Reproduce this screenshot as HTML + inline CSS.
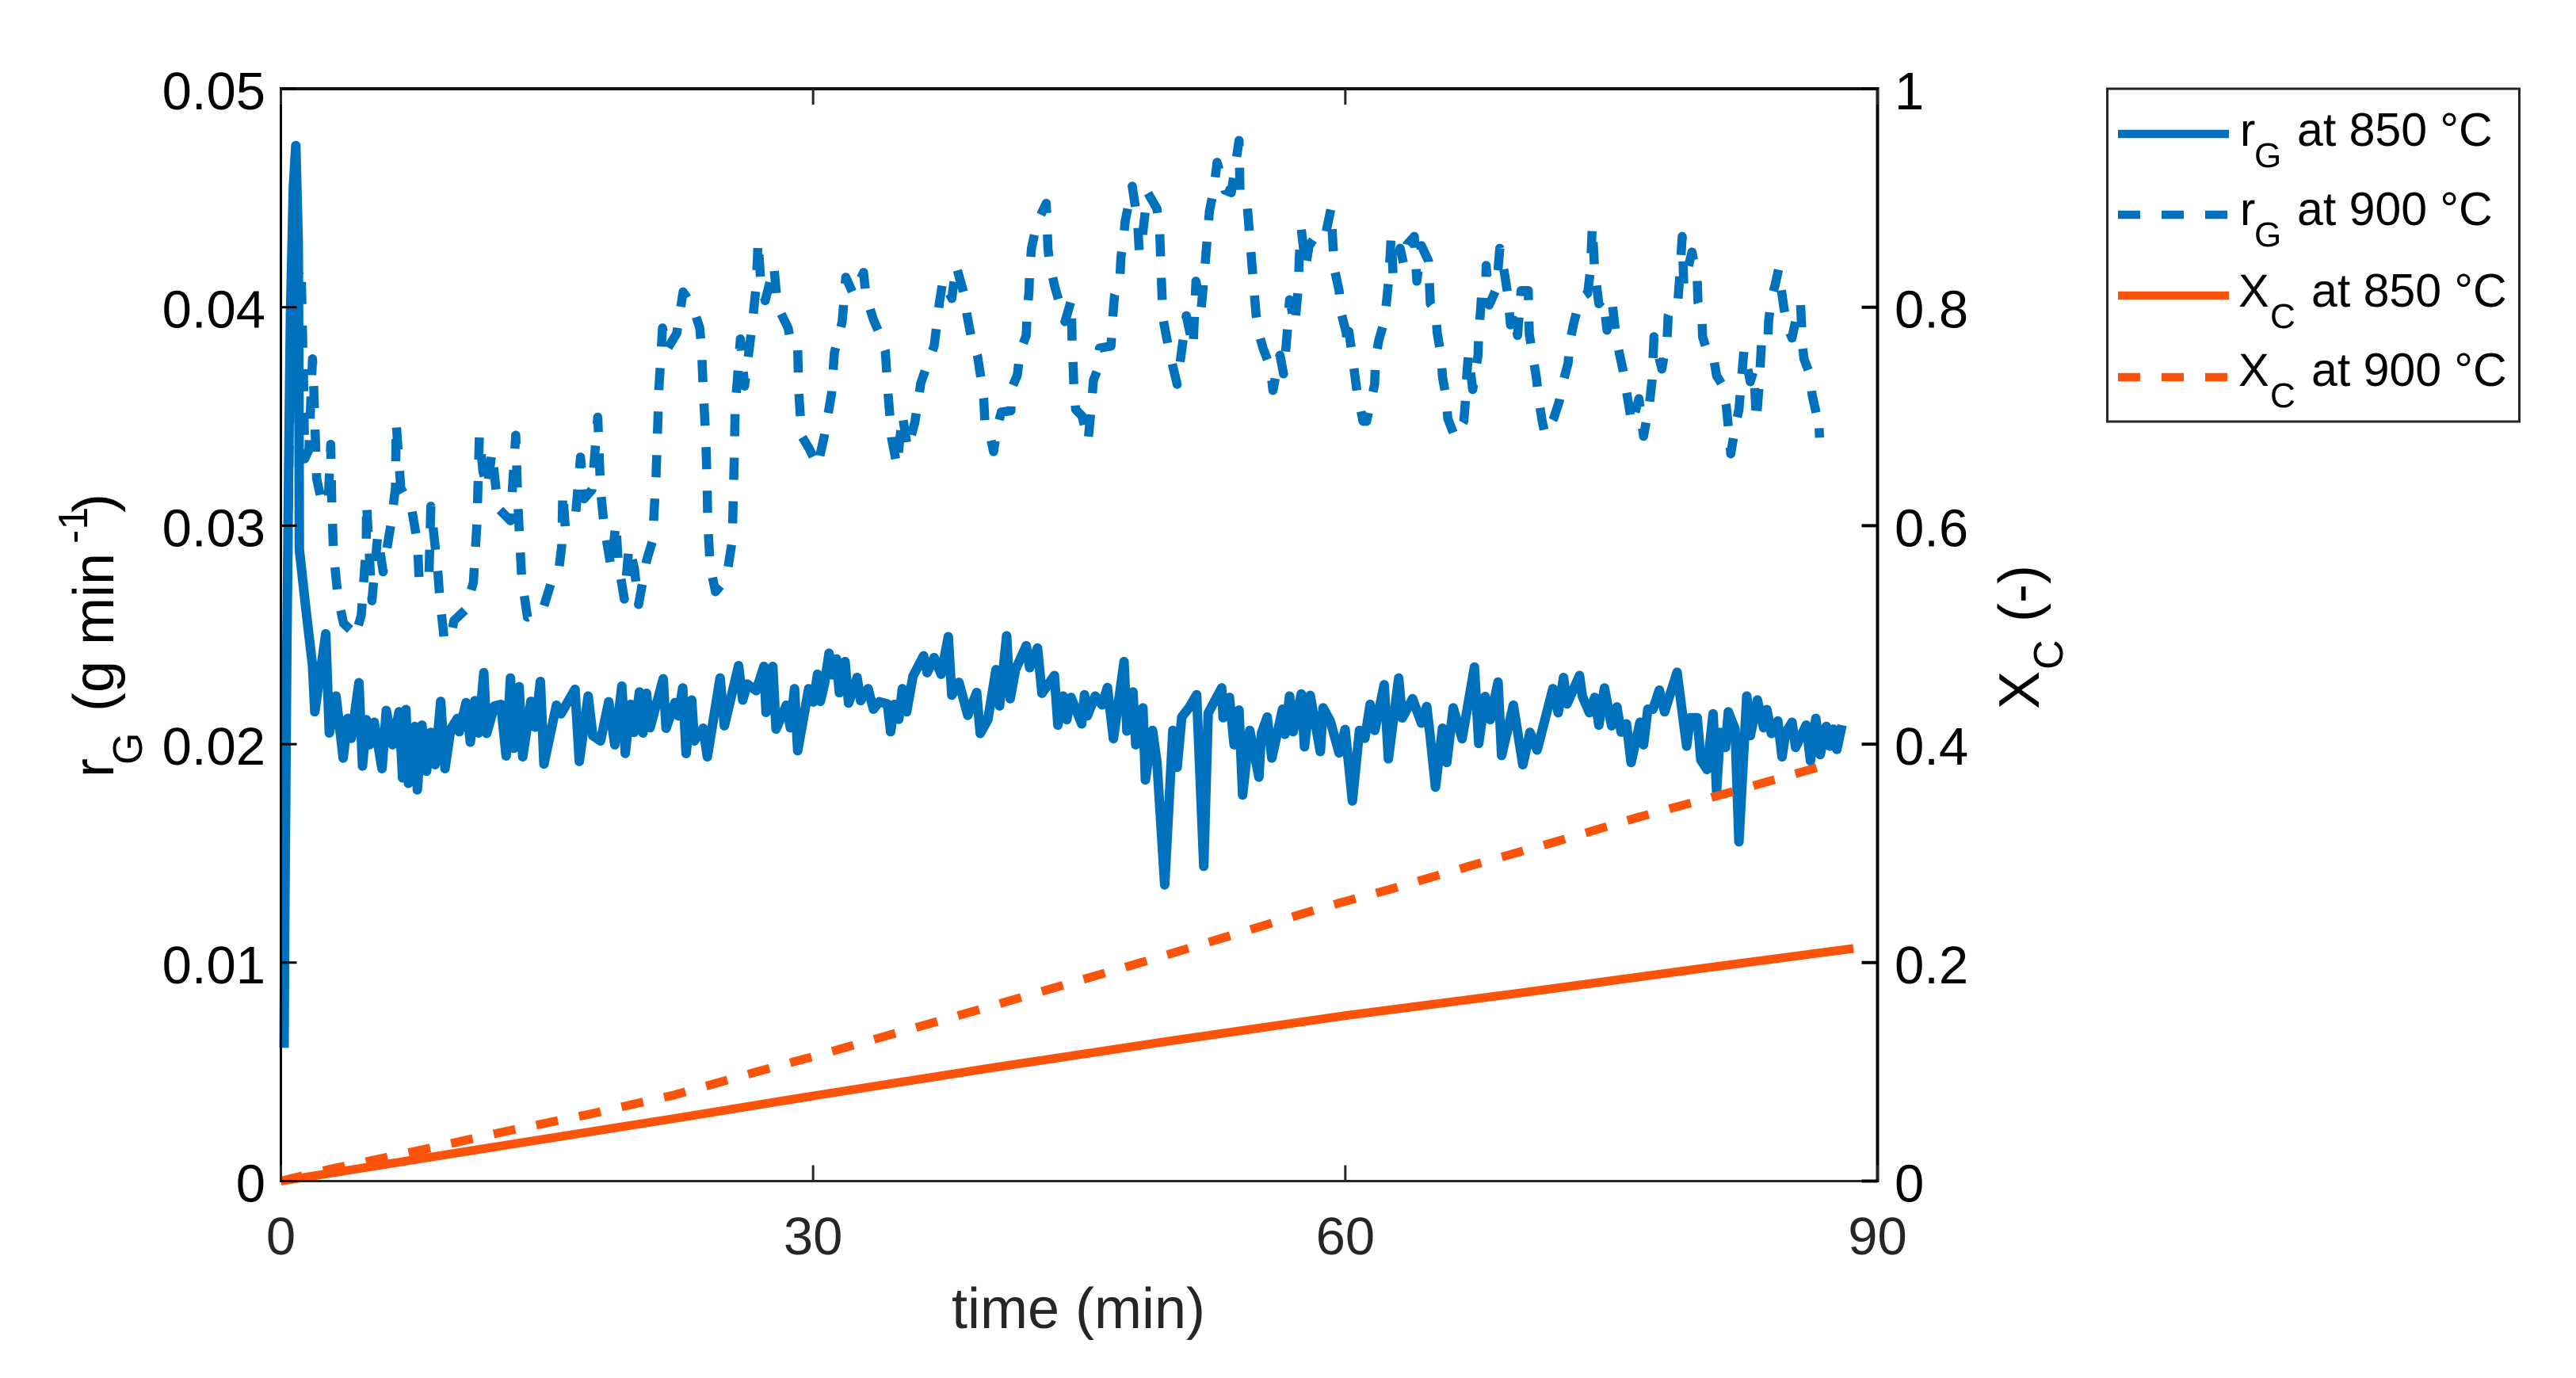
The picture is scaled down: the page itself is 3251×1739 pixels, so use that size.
<!DOCTYPE html>
<html lang="en">
<head>
<meta charset="utf-8">
<title>Gasification rate and carbon conversion over time</title>
<style>
html,body{margin:0;padding:0;background:#fff;}
svg{display:block;}
text{font-family:"Liberation Sans",Arial,sans-serif;}
</style>
</head>
<body>
<svg id="chart" xmlns="http://www.w3.org/2000/svg" width="3251" height="1739" viewBox="0 0 3251 1739">
<rect x="0" y="0" width="3251" height="1739" fill="#fff"/>
<g id="series"></g>
<g id="axes"></g>

<text x="1361" y="1676" font-size="72" text-anchor="middle" fill="#262626">time (min)</text>

<g fill="#000">
<text transform="translate(143,981) rotate(-90)" font-size="72">r</text>
<text transform="translate(179,965) rotate(-90)" font-size="52">G</text>
<text transform="translate(143,898) rotate(-90)" font-size="72">(g min</text>
<text transform="translate(110,686) rotate(-90)" font-size="52">-1</text>
<text transform="translate(143,647) rotate(-90)" font-size="72">)</text>
</g>

<g fill="#000">
<text transform="translate(2573,895) rotate(-90)" font-size="72">X</text>
<text transform="translate(2603,845) rotate(-90)" font-size="52">C</text>
<text transform="translate(2573,785) rotate(-90)" font-size="72">(-)</text>
</g>

<g>
<rect x="2659.5" y="112" width="520" height="420" fill="#fff" stroke="#262626" stroke-width="3"/>
<g>
<line x1="2673" y1="169" x2="2813" y2="169" stroke="#0072BD" stroke-width="10.5"/>
<text x="2827" y="184" font-size="58" fill="#000">r</text>
<text x="2845" y="211" font-size="44" fill="#000">G</text>
<text x="2899" y="184" font-size="59" fill="#000">at 850 °C</text>
</g>
<g>
<line x1="2673" y1="271" x2="2813" y2="271" stroke="#0072BD" stroke-width="10.5" stroke-dasharray="28 27"/>
<text x="2827" y="284" font-size="58" fill="#000">r</text>
<text x="2845" y="311" font-size="44" fill="#000">G</text>
<text x="2899" y="284" font-size="59" fill="#000">at 900 °C</text>
</g>
<g>
<line x1="2673" y1="373" x2="2813" y2="373" stroke="#FB540A" stroke-width="10.5"/>
<text x="2825" y="387" font-size="58" fill="#000">X</text>
<text x="2865" y="414" font-size="44" fill="#000">C</text>
<text x="2917" y="387" font-size="59" fill="#000">at 850 °C</text>
</g>
<g>
<line x1="2673" y1="476" x2="2813" y2="476" stroke="#FB540A" stroke-width="10.5" stroke-dasharray="28 27"/>
<text x="2825" y="487" font-size="58" fill="#000">X</text>
<text x="2865" y="514" font-size="44" fill="#000">C</text>
<text x="2917" y="487" font-size="59" fill="#000">at 900 °C</text>
</g>
</g>
</svg>

<script>
// Tick values and labels
const xTicks = [0, 30, 60, 90];
const xTickLabels = ['0', '30', '60', '90'];
// Left axis values are in units of 10^-3 g/min
const leftTicks = [0, 10, 20, 30, 40, 50];
const leftTickLabels = ['0', '0.01', '0.02', '0.03', '0.04', '0.05'];
const rightTicks = [0, 0.2, 0.4, 0.6, 0.8, 1];
const rightTickLabels = ['0', '0.2', '0.4', '0.6', '0.8', '1'];

// r_G at 850 C: time (min)
const rg850Time = [
0.18,0.22,0.34,0.44,0.54,0.70,0.84,0.98,1.02,1.04,
1.42,1.78,1.91,2.53,2.73,3.11,3.51,3.77,3.97,4.40,
4.60,4.82,5.00,5.26,5.70,5.94,6.30,6.66,6.86,7.05,
7.19,7.55,7.69,7.95,8.21,8.45,8.69,9.01,9.25,9.57,
9.95,10.05,10.44,10.68,10.94,11.14,11.44,11.60,12.04,12.40,
12.70,12.94,13.14,13.43,13.63,14.09,14.33,14.63,14.83,15.53,
15.79,16.58,16.82,17.32,17.58,18.02,18.48,18.82,19.22,19.41,
19.71,19.91,20.21,20.41,20.61,20.81,21.55,21.71,22.21,22.41,
22.65,22.84,23.16,23.30,23.80,24.04,24.76,25.00,25.80,26.03,
26.29,26.79,27.23,27.35,27.73,27.91,28.49,28.72,28.95,29.13,
29.75,30.01,30.25,30.41,30.64,30.90,31.08,31.32,31.48,31.80,
32.00,32.24,32.48,32.68,33.10,33.40,33.73,34.19,34.37,34.59,
34.83,35.03,35.27,35.63,36.23,36.43,36.82,37.22,37.62,37.82,
38.22,38.72,39.22,39.42,39.85,40.31,40.51,40.91,41.11,41.41,
42.01,42.21,42.65,42.90,43.60,43.80,44.10,44.30,44.54,45.14,
45.30,45.46,45.90,46.29,46.59,46.93,47.53,47.69,48.03,48.19,
48.59,48.73,49.13,49.38,49.82,50.28,50.52,50.78,51.18,51.62,
52.02,52.27,53.03,53.11,53.47,53.73,54.01,54.21,54.61,55.13,
55.27,55.60,55.86,56.46,56.60,56.86,57.06,57.52,57.70,58.02,
58.59,58.75,59.15,59.65,59.99,60.40,60.80,61.10,61.40,61.66,
62.19,62.43,63.01,63.21,63.79,64.29,64.59,64.79,65.08,65.48,
65.72,66.08,66.58,67.28,67.52,67.88,68.17,68.61,68.81,69.47,
70.01,70.41,70.81,71.70,72.00,72.30,72.50,73.20,73.36,73.76,
74.06,74.29,74.61,75.01,75.31,75.55,75.85,76.11,76.61,76.81,
77.05,77.34,77.70,78.00,78.70,79.24,79.44,79.84,80.04,80.39,
80.73,80.93,81.13,81.43,81.59,81.97,82.19,82.63,82.83,83.23,
83.58,83.76,84.02,84.38,84.62,84.82,85.18,85.38,85.98,86.22,
86.52,86.77,87.11,87.31,87.51,87.71,88.00
];
// r_G at 850 C: rate (10^-3 g/min)
const rg850Values = [
6.1,12,24.7,33,39.7,45.5,47.4,43,36,28.9,
26.1,23.6,21.48,25.05,20.51,22.20,19.36,21.18,20.27,22.81,
19.00,21.12,19.97,21.00,18.88,21.54,19.97,21.48,18.46,21.58,
18.21,20.81,17.91,20.87,18.76,20.54,19.06,21.96,18.88,20.69,
21.18,20.57,21.90,20.09,21.99,20.51,23.27,20.49,21.75,21.82,
19.46,23.03,19.81,22.63,19.42,21.96,20.78,22.87,19.09,21.78,
21.39,22.51,19.21,22.20,20.39,20.15,21.94,19.97,22.66,19.58,
21.82,20.54,22.39,20.51,22.33,20.75,22.99,20.73,21.90,21.30,
22.57,19.57,22.02,20.15,20.73,19.42,23.03,20.84,23.59,22.02,
22.75,22.45,23.56,21.45,23.56,20.69,21.78,20.75,22.54,19.70,
22.54,21.93,23.20,21.96,22.75,24.16,23.17,23.90,22.35,23.78,
21.88,22.45,23.05,21.99,22.54,21.60,21.94,21.84,20.57,21.82,
21.14,22.54,21.48,23.11,24.04,23.27,23.96,23.20,24.92,22.24,
22.83,21.32,22.36,20.49,21.12,23.41,21.75,24.96,22.08,23.41,
24.50,23.50,24.40,22.33,23.14,20.87,22.20,21.12,22.14,20.93,
22.26,21.30,22.20,21.80,22.59,20.25,23.78,20.60,22.39,19.97,
21.66,18.36,20.63,19.18,13.56,20.63,18.94,21.24,21.66,22.26,
14.41,21.42,22.57,21.21,22.14,19.97,21.56,17.67,20.63,18.49,
20.49,21.24,19.36,21.60,20.45,22.20,20.57,22.30,19.88,22.23,
19.66,21.66,21.06,19.60,20.67,17.40,20.63,20.27,21.82,20.63,
22.72,19.33,23.03,21.20,22.08,20.96,21.72,20.31,18.03,20.73,
19.16,21.66,20.25,23.53,20.03,22.18,21.12,22.84,19.48,21.78,
19.06,20.54,19.73,22.54,21.44,23.05,21.84,23.14,22.20,21.44,
22.14,20.87,22.57,20.84,21.70,20.55,20.93,19.16,21.00,19.97,
21.60,21.60,22.47,21.48,23.29,19.91,21.21,21.21,19.28,18.84,
21.39,17.85,20.54,19.85,21.48,20.69,15.53,22.20,20.39,22.02,
20.75,21.58,20.49,21.06,19.42,20.51,21.00,19.85,20.87,19.24,
21.18,19.52,20.81,19.91,20.69,19.76,20.87
];

// r_G at 900 C: time (min)
const rg900Time = [
0.34,0.54,0.80,1.14,1.28,1.34,1.58,1.68,1.78,1.86,
1.94,2.02,2.33,2.67,2.81,2.87,2.97,3.21,3.53,3.93,
4.17,4.53,4.81,4.83,4.97,5.13,5.46,5.76,6.20,6.46,
6.50,6.76,7.36,7.70,7.80,8.35,8.45,8.85,8.95,9.19,
9.55,9.75,10.39,10.85,11.05,11.19,11.39,11.64,11.90,12.24,
12.94,13.24,13.34,13.44,13.58,13.90,14.73,15.23,15.63,15.83,
15.89,16.03,16.63,16.89,17.09,17.53,17.86,18.02,18.22,18.62,
18.88,19.02,19.36,19.62,19.92,20.16,20.61,20.95,21.15,21.31,
21.51,21.75,22.31,22.67,23.21,23.61,23.71,23.81,23.94,24.02,
24.06,24.20,24.50,25.10,25.44,25.50,25.56,25.60,25.90,26.14,
26.56,26.80,26.90,27.06,27.30,27.79,27.93,28.19,28.59,28.79,
29.13,29.19,29.35,29.79,30.25,30.64,31.04,31.20,31.64,31.84,
32.28,32.84,32.98,33.40,33.79,34.07,34.23,34.43,34.73,35.03,
35.33,35.73,36.07,36.33,36.82,36.98,37.12,37.32,37.82,38.06,
38.52,38.68,38.92,39.26,39.46,39.62,39.68,39.92,40.17,40.37,
40.61,41.15,41.21,41.51,41.67,42.01,42.07,42.17,42.21,42.31,
42.61,43.14,43.24,43.36,43.64,44.20,44.56,44.60,44.66,44.70,
44.80,45.16,45.50,45.70,45.80,46.00,46.15,46.79,46.89,46.99,
47.29,47.35,47.49,47.59,47.99,48.29,48.39,48.55,48.85,49.38,
49.54,49.62,49.72,50.08,50.52,50.78,51.04,51.42,51.58,51.88,
52.08,52.18,52.34,52.58,52.77,53.21,53.57,54.01,54.07,54.47,
54.57,54.77,54.97,55.17,55.37,55.76,55.92,56.16,56.32,56.52,
56.66,56.76,56.86,57.16,57.36,57.40,57.52,57.76,57.96,58.36,
58.85,59.19,59.31,59.39,59.65,59.75,60.05,60.11,60.20,60.34,
60.66,61.00,61.20,61.65,61.70,61.89,62.19,62.33,62.45,62.59,
62.69,63.09,63.29,63.49,63.89,64.03,64.29,64.69,64.79,65.08,
65.18,65.38,65.48,65.68,65.78,66.18,66.68,66.78,66.84,66.94,
67.18,67.48,67.52,67.62,67.68,67.92,67.94,68.11,68.47,68.61,
68.71,68.97,69.17,69.31,69.47,69.71,69.91,70.31,70.37,70.57,
70.77,70.91,71.10,71.26,71.76,72.06,72.26,72.56,72.66,72.86,
73.22,73.66,73.82,73.92,74.06,74.29,74.55,74.75,75.05,75.25,
75.41,75.65,75.85,76.15,76.55,76.81,77.15,77.29,77.40,77.84,
78.14,78.20,78.48,78.74,78.84,78.99,79.08,79.54,79.84,79.88,
80.10,80.14,80.44,80.73,80.93,81.23,81.47,81.53,81.73,81.97,
82.19,82.29,82.47,82.83,83.03,83.17,83.33,83.47,83.82,83.86,
84.02,84.22,84.42,84.72,84.92,85.18,85.42,85.66,85.78,85.86,
86.18,86.32,86.58,86.68,86.73
];
// r_G at 900 C: rate (10^-3 g/min)
const rg900Values = [
24.7,38,41,41.88,36.39,33.06,33.47,35.55,37.64,36.14,
34.14,32.14,30.97,31.22,33.72,30.81,28.73,26.76,25.53,25.23,
24.90,25.89,29.06,31.06,28.89,26.56,29.56,27.89,30.06,31.72,
34.72,31.72,30.81,29.22,27.39,27.73,30.89,27.89,26.73,24.90,
24.73,25.65,26.14,27.39,30.06,34.14,32.47,31.72,33.39,30.81,
30.23,34.14,31.39,29.64,27.56,25.81,26.06,27.39,27.73,29.06,
31.56,29.89,30.64,33.14,31.23,31.64,34.97,31.64,29.97,28.06,
30.14,28.31,26.64,29.06,28.06,26.39,28.39,29.31,32.31,36.30,
39.05,38.05,38.80,40.70,40.05,39.05,38.14,36.14,34.14,32.14,
30.14,28.14,26.98,27.56,29.31,31.31,33.30,35.30,38.55,36.39,
39.13,41.05,43.05,41.05,40.30,41.88,40.63,39.72,39.05,38.20,
38.16,36.17,34.11,33.51,32.72,34.14,36.05,37.92,39.34,41.37,
40.58,41.59,40.52,39.43,38.71,37.98,35.99,33.99,32.72,35.08,
33.51,34.72,36.53,37.14,38.22,39.25,40.22,41.25,40.40,41.91,
40.58,39.62,38.59,37.80,36.75,35.81,34.78,34.35,33.39,34.48,
35.20,35.26,36.31,36.89,37.96,38.71,39.74,40.70,41.73,42.70,
43.85,44.75,42.67,41.85,40.88,39.34,40.34,38.32,37.29,36.31,
35.32,35.02,33.87,35.63,36.65,37.07,38.13,38.22,39.53,40.56,
41.25,42.27,43.04,43.93,45.54,43.91,42.49,43.18,45.26,44.51,
43.48,41.53,39.49,37.96,36.47,38.04,39.61,38.16,41.19,39.94,
41.79,42.82,44.39,45.36,46.63,45.36,45.24,47.63,45.06,44.69,
43.63,41.63,39.65,38.68,38.10,37.28,36.19,37.26,37.80,36.95,
38.22,39.19,40.34,39.19,41.00,42.21,43.58,41.85,42.82,43.30,
43.18,44.51,42.76,41.73,40.76,39.80,38.83,38.13,38.89,38.10,
36.14,34.78,34.78,36.47,37.62,38.49,39.34,40.30,41.31,43.30,
41.49,42.70,41.97,42.88,43.24,41.19,42.82,42.12,40.16,39.86,
38.83,37.86,36.81,35.87,34.90,34.05,34.78,35.81,36.81,37.84,
36.23,37.80,38.83,39.80,40.56,41.31,41.91,40.10,40.76,41.73,
42.70,41.55,40.52,39.19,39.74,38.71,40.76,40.76,38.77,37.76,
36.77,35.75,34.78,34.17,34.94,35.69,36.53,37.44,38.41,39.22,
40.38,40.64,41.71,43.72,41.67,40.16,40.40,38.95,40.16,38.74,
38.04,37.13,36.15,34.66,35.81,34.09,35.62,36.65,38.65,37.17,
38.59,39.61,40.20,40.22,41.25,43.24,41.01,42.52,41.25,40.22,
39.67,38.65,37.86,37.80,36.87,36.47,35.50,35.02,33.29,34.48,
35.32,36.29,38.04,36.59,37.14,34.78,36.47,38.53,38.37,39.37,
40.38,41.00,41.73,39.98,39.09,38.59,39.55,40.19,38.16,37.62,
36.95,35.96,35.02,35.14,34.03
];

// X_C at 850 C
const xc850Time = [0, 5, 9.65, 22.6, 30, 40, 50, 60, 70, 80, 88.64];
const xc850Values = [0, 0.0130, 0.0251, 0.0584, 0.0780, 0.1035, 0.1280, 0.1515, 0.1725, 0.1945, 0.2129];

// X_C at 900 C
const xc900Time = [0, 2.8, 7.8, 12.6, 17.4, 22.2, 26.8, 30, 39.8, 49.1, 57.8, 59.75, 62.46, 67.2, 71.93, 76.6, 81.4, 86.7];
const xc900Values = [0, 0.0110, 0.0281, 0.0453, 0.0613, 0.0789, 0.1000, 0.1140, 0.1590, 0.2030, 0.2458, 0.2550, 0.2668, 0.2893, 0.3110, 0.3335, 0.3546, 0.3790];

// Axis geometry and scale functions
const SVG_NS = 'http://www.w3.org/2000/svg';
const plotLeft = 354.5, plotRight = 2369.5, plotTop = 112, plotBottom = 1490.5;
const xMax = 90, leftMax = 50, rightMax = 1;
function xScale(t) { return plotLeft + (t / xMax) * (plotRight - plotLeft); }
function yLeft(v) { return plotBottom - (v / leftMax) * (plotBottom - plotTop); }
function yRight(v) { return plotBottom - (v / rightMax) * (plotBottom - plotTop); }

function make(tag, attrs) {
  const el = document.createElementNS(SVG_NS, tag);
  for (const k in attrs) el.setAttribute(k, attrs[k]);
  return el;
}
function pointsFrom(times, values, yFn) {
  const n = Math.min(times.length, values.length);
  const pts = [];
  for (let i = 0; i < n; i++) pts.push(xScale(times[i]).toFixed(1) + ',' + yFn(values[i]).toFixed(1));
  return pts.join(' ');
}

const seriesGroup = document.getElementById('series');
const axesGroup = document.getElementById('axes');

// Axis frame and ticks
const frameBottom = make('line', {x1: plotLeft, y1: plotBottom, x2: plotRight, y2: plotBottom, stroke: '#262626', 'stroke-width': 3});


axesGroup.insertBefore(frameBottom, axesGroup.firstChild);

const frameTop = make('line', {x1: plotLeft, y1: plotTop, x2: plotRight, y2: plotTop, stroke: '#111', 'stroke-width': 4});


axesGroup.appendChild(frameTop);

const frameLeft = make('line', {x1: plotLeft, y1: plotTop - 2, x2: plotLeft, y2: plotBottom + 1.5, stroke: '#000', 'stroke-width': 3});


axesGroup.appendChild(frameLeft);

const frameRight = make('line', {x1: plotRight, y1: plotTop - 2, x2: plotRight, y2: plotBottom + 1.5, stroke: '#000', 'stroke-width': 4});


axesGroup.appendChild(frameRight);

xTicks.forEach(function (t, i) {
  const x = xScale(t);
  const lower = make('line', {x1: x, y1: plotBottom, x2: x, y2: plotBottom - 20, stroke: '#262626', 'stroke-width': 3});
  
  
  axesGroup.appendChild(lower);
  const upper = make('line', {x1: x, y1: plotTop, x2: x, y2: plotTop + 20, stroke: '#262626', 'stroke-width': 3});
  
  
  axesGroup.appendChild(upper);
  const label = make('text', {x: x, y: 1583, 'font-size': 67, 'text-anchor': 'middle', fill: '#262626'});
  label.textContent = xTickLabels[i];
  
  
  axesGroup.appendChild(label);
});

leftTicks.forEach(function (v, i) {
  const y = yLeft(v);
  const tick = make('line', {x1: plotLeft, y1: y, x2: plotLeft + 20, y2: y, stroke: '#000', 'stroke-width': 3});
  
  
  axesGroup.appendChild(tick);
  const label = make('text', {x: 335, y: y + 26, 'font-size': 67, 'text-anchor': 'end', fill: '#000'});
  label.textContent = leftTickLabels[i];
  
  
  axesGroup.appendChild(label);
});

rightTicks.forEach(function (v, i) {
  const y = yRight(v);
  const tick = make('line', {x1: plotRight, y1: y, x2: plotRight - 20, y2: y, stroke: '#000', 'stroke-width': 4});
  
  
  axesGroup.appendChild(tick);
  const label = make('text', {x: 2391, y: y + 26, 'font-size': 67, 'text-anchor': 'start', fill: '#000'});
  label.textContent = rightTickLabels[i];
  
  
  axesGroup.appendChild(label);
});

// Data lines
const lineRg850 = make('polyline', {points: pointsFrom(rg850Time, rg850Values, yLeft), fill: 'none', stroke: '#0072BD', 'stroke-width': 12, 'stroke-linejoin': 'round', 'stroke-linecap': 'butt'});


seriesGroup.appendChild(lineRg850);

const lineRg900 = make('polyline', {points: pointsFrom(rg900Time, rg900Values, yLeft), fill: 'none', stroke: '#0072BD', 'stroke-width': 11.5, 'stroke-dasharray': '28 27', 'stroke-linejoin': 'round', 'stroke-linecap': 'butt'});


seriesGroup.appendChild(lineRg900);

const lineXc850 = make('polyline', {points: pointsFrom(xc850Time, xc850Values, yRight), fill: 'none', stroke: '#FB540A', 'stroke-width': 11, 'stroke-linejoin': 'round'});


seriesGroup.appendChild(lineXc850);

const lineXc900 = make('polyline', {points: pointsFrom(xc900Time, xc900Values, yRight), fill: 'none', stroke: '#FB540A', 'stroke-width': 11, 'stroke-dasharray': '28 27', 'stroke-linejoin': 'round'});


seriesGroup.appendChild(lineXc900);
</script>
</body>
</html>
